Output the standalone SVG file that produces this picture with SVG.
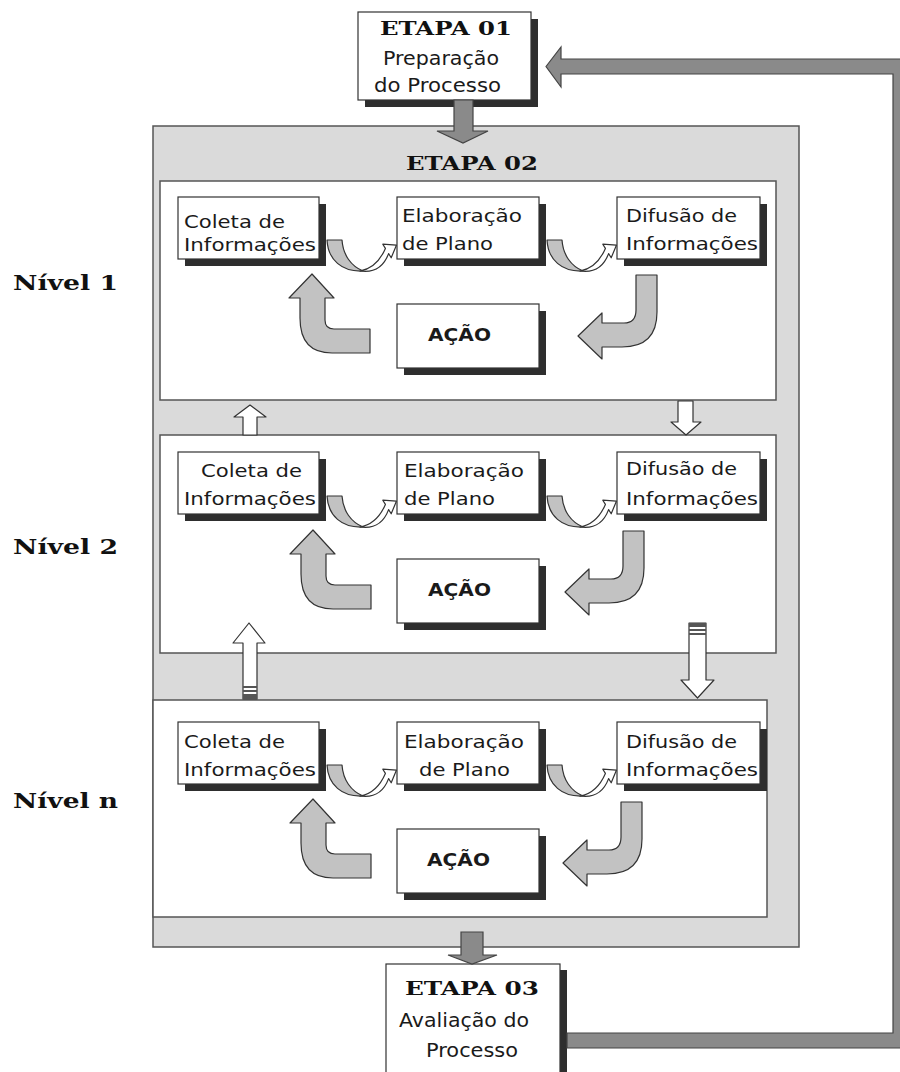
<svg xmlns="http://www.w3.org/2000/svg" width="900" height="1072" viewBox="0 0 900 1072">
<style>
.sans{font-family:'DejaVu Sans',Verdana,sans-serif;font-size:18px;fill:#1a1a1a}
.big{font-size:20px}
.bold{font-weight:bold}
.serif{font-family:'DejaVu Serif','Liberation Serif',serif;font-weight:bold;font-size:19px;fill:#111}
.box{fill:#fff;stroke:#333;stroke-width:1.2}
.shadow{fill:#2e2e2e}
.panel{fill:#fff;stroke:#555;stroke-width:1.5}
.container{fill:#dadada;stroke:#555;stroke-width:1.5}
.garrow{fill:#c2c2c2;stroke:#333;stroke-width:1.2;stroke-linejoin:round}
.warrow{fill:#fff;stroke:#333;stroke-width:1.2;stroke-linejoin:round}
.darrow{fill:#8a8a8a;stroke:#444;stroke-width:1.2}
.stripe{fill:#555}
</style>
<defs>
<g id="uturn">
<path class="garrow" d="M327,240 H342 C343,255 351,266 363,271 C342,272 328,260 327,240 Z"/>
<path class="warrow" d="M360,271 Q377,268 385.4,248.4 L382.8,244.2 L396.4,245.2 L391.2,257.8 L388.6,253.6 Q381,274 360,271 Z"/>
</g>
<path id="curveL" class="garrow" d="M312,274 L334,298 L325,298 L325,320 Q325,329 334,329 L370,329 L370,353 L332,353 Q300,353 300,318 L300,298 L289,298 Z"/>
<path id="curveR" class="garrow" d="M636,275 L657,275 L657,312 Q657,347 622,347 L602,347 L602,359 L578,336 L602,313 L602,323 L624,323 Q636,323 636,310 Z"/>
</defs>
<rect x="0" y="0" width="900" height="1072" fill="#fff"/>

<g id="etapa02">
<rect class="container" x="153" y="126" width="646" height="821"/>
<text class="serif" x="406" y="170" textLength="132" lengthAdjust="spacingAndGlyphs">ETAPA 02</text>
</g>

<g id="etapa01">
<rect class="shadow" x="365" y="19" width="173" height="88"/>
<rect class="box" x="358" y="12" width="173" height="88"/>
<text class="serif" x="380" y="35" textLength="132" lengthAdjust="spacingAndGlyphs">ETAPA 01</text>
<text class="sans big" x="383" y="65" textLength="116" lengthAdjust="spacingAndGlyphs">Preparação</text>
<text class="sans big" x="374" y="92" textLength="127" lengthAdjust="spacingAndGlyphs">do Processo</text>
</g>

<g id="etapa03">
<rect class="shadow" x="393" y="970" width="174" height="110"/>
<rect class="box" x="386" y="964" width="174" height="116"/>
<text class="serif" x="405" y="995" textLength="134" lengthAdjust="spacingAndGlyphs">ETAPA 03</text>
<text class="sans big" x="399" y="1027" textLength="130" lengthAdjust="spacingAndGlyphs">Avaliação do</text>
<text class="sans big" x="426" y="1057" textLength="92" lengthAdjust="spacingAndGlyphs">Processo</text>
</g>

<g id="labels">
<text class="serif" x="13" y="290" font-size="20" style="font-size:20px" textLength="105" lengthAdjust="spacingAndGlyphs">Nível 1</text>
<text class="serif" x="13" y="554" style="font-size:20px" textLength="105" lengthAdjust="spacingAndGlyphs">Nível 2</text>
<text class="serif" x="13" y="808" style="font-size:20px" textLength="105" lengthAdjust="spacingAndGlyphs">Nível n</text>
</g>

<g id="nivel1">
<rect class="panel" x="160" y="181" width="616" height="219"/>
<g id="n1-coleta">
<rect class="shadow" x="185" y="204" width="141" height="62"/>
<rect class="box" x="178" y="197" width="141" height="62"/>
<text class="sans" x="184" y="228" textLength="101" lengthAdjust="spacingAndGlyphs">Coleta de</text>
<text class="sans" x="184" y="251" textLength="132" lengthAdjust="spacingAndGlyphs">Informações</text>
</g>
<g id="n1-elab">
<rect class="shadow" x="404" y="204" width="142" height="62"/>
<rect class="box" x="397" y="197" width="142" height="62"/>
<text class="sans" x="402" y="222" textLength="120" lengthAdjust="spacingAndGlyphs">Elaboração</text>
<text class="sans" x="402" y="250" textLength="91" lengthAdjust="spacingAndGlyphs">de Plano</text>
</g>
<g id="n1-difusao">
<rect class="shadow" x="624" y="204" width="143" height="62"/>
<rect class="box" x="617" y="197" width="143" height="62"/>
<text class="sans" x="626" y="222" textLength="111" lengthAdjust="spacingAndGlyphs">Difusão de</text>
<text class="sans" x="626" y="250" textLength="132" lengthAdjust="spacingAndGlyphs">Informações</text>
</g>
<g id="n1-acao">
<rect class="shadow" x="404" y="311" width="142" height="64"/>
<rect class="box" x="397" y="304" width="142" height="64"/>
<text class="sans bold" x="428" y="341" textLength="63" lengthAdjust="spacingAndGlyphs">AÇÃO</text>
</g>
</g>

<g id="nivel2">
<rect class="panel" x="160" y="435" width="616" height="218"/>
<g id="n2-coleta">
<rect class="shadow" x="185" y="459" width="141" height="62"/>
<rect class="box" x="178" y="452" width="141" height="62"/>
<text class="sans" x="201" y="477" textLength="101" lengthAdjust="spacingAndGlyphs">Coleta de</text>
<text class="sans" x="184" y="505" textLength="132" lengthAdjust="spacingAndGlyphs">Informações</text>
</g>
<g id="n2-elab">
<rect class="shadow" x="404" y="459" width="142" height="62"/>
<rect class="box" x="397" y="452" width="142" height="62"/>
<text class="sans" x="404" y="477" textLength="120" lengthAdjust="spacingAndGlyphs">Elaboração</text>
<text class="sans" x="404" y="505" textLength="91" lengthAdjust="spacingAndGlyphs">de Plano</text>
</g>
<g id="n2-difusao">
<rect class="shadow" x="624" y="459" width="143" height="62"/>
<rect class="box" x="617" y="452" width="143" height="62"/>
<text class="sans" x="626" y="475" textLength="111" lengthAdjust="spacingAndGlyphs">Difusão de</text>
<text class="sans" x="626" y="505" textLength="132" lengthAdjust="spacingAndGlyphs">Informações</text>
</g>
<g id="n2-acao">
<rect class="shadow" x="404" y="566" width="142" height="64"/>
<rect class="box" x="397" y="559" width="142" height="64"/>
<text class="sans bold" x="428" y="596" textLength="63" lengthAdjust="spacingAndGlyphs">AÇÃO</text>
</g>
</g>

<g id="niveln">
<rect class="panel" x="153" y="700" width="614" height="217"/>
<g id="nn-coleta">
<rect class="shadow" x="185" y="729" width="141" height="62"/>
<rect class="box" x="178" y="722" width="141" height="62"/>
<text class="sans" x="184" y="748" textLength="101" lengthAdjust="spacingAndGlyphs">Coleta de</text>
<text class="sans" x="184" y="776" textLength="132" lengthAdjust="spacingAndGlyphs">Informações</text>
</g>
<g id="nn-elab">
<rect class="shadow" x="404" y="729" width="142" height="62"/>
<rect class="box" x="397" y="722" width="142" height="62"/>
<text class="sans" x="404" y="748" textLength="120" lengthAdjust="spacingAndGlyphs">Elaboração</text>
<text class="sans" x="419" y="776" textLength="91" lengthAdjust="spacingAndGlyphs">de Plano</text>
</g>
<g id="nn-difusao">
<rect class="shadow" x="624" y="729" width="143" height="62"/>
<rect class="box" x="617" y="722" width="143" height="62"/>
<text class="sans" x="626" y="748" textLength="111" lengthAdjust="spacingAndGlyphs">Difusão de</text>
<text class="sans" x="626" y="776" textLength="132" lengthAdjust="spacingAndGlyphs">Informações</text>
</g>
<g id="nn-acao">
<rect class="shadow" x="404" y="836" width="142" height="64"/>
<rect class="box" x="397" y="829" width="142" height="64"/>
<text class="sans bold" x="427" y="866" textLength="63" lengthAdjust="spacingAndGlyphs">AÇÃO</text>
</g>
</g>

<g id="connectors">
<use href="#uturn"/>
<use href="#uturn" transform="translate(220,0)"/>
<use href="#uturn" transform="translate(0,256)"/>
<use href="#uturn" transform="translate(220,256)"/>
<use href="#uturn" transform="translate(0,525)"/>
<use href="#uturn" transform="translate(220,525)"/>
<use href="#curveL"/>
<use href="#curveL" transform="translate(1,256)"/>
<use href="#curveL" transform="translate(1,525)"/>
<use href="#curveR"/>
<use href="#curveR" transform="translate(-13,256)"/>
<use href="#curveR" transform="translate(-15,527)"/>
<path class="warrow" d="M243,435 V417 H234 L250,405 L266,417 H257 V435 Z"/>
<path class="warrow" d="M678,401 H693 V422 H701 L686,435 L671,422 H678 Z"/>
<path class="warrow" d="M243,699 V643 H233 L249,623 L265,643 H257 V699 Z"/>
<rect class="stripe" x="243" y="686" width="14" height="2"/>
<rect class="stripe" x="243" y="690" width="14" height="2"/>
<rect class="stripe" x="243" y="694" width="14" height="5"/>
<path class="warrow" d="M689,623 H706 V680 H714 L697.5,698 L681,680 H689 Z"/>
<rect class="stripe" x="689" y="623" width="17" height="4"/>
<rect class="stripe" x="689" y="629" width="17" height="2"/>
<rect class="stripe" x="689" y="633" width="17" height="2"/>
<path class="darrow" d="M454,100 H473 V131 H488 L463,143 L437,131 H454 Z"/>
<path class="darrow" d="M461,932 H483 V955 H497 L472,964 L448,955 H461 Z"/>
<path class="darrow" d="M546,66.5 L561,47 L561,59 L908,59 L908,1048 L567,1048 L567,1033 L893,1033 L893,74 L561,74 L561,87 Z"/>
</g>
</svg>
